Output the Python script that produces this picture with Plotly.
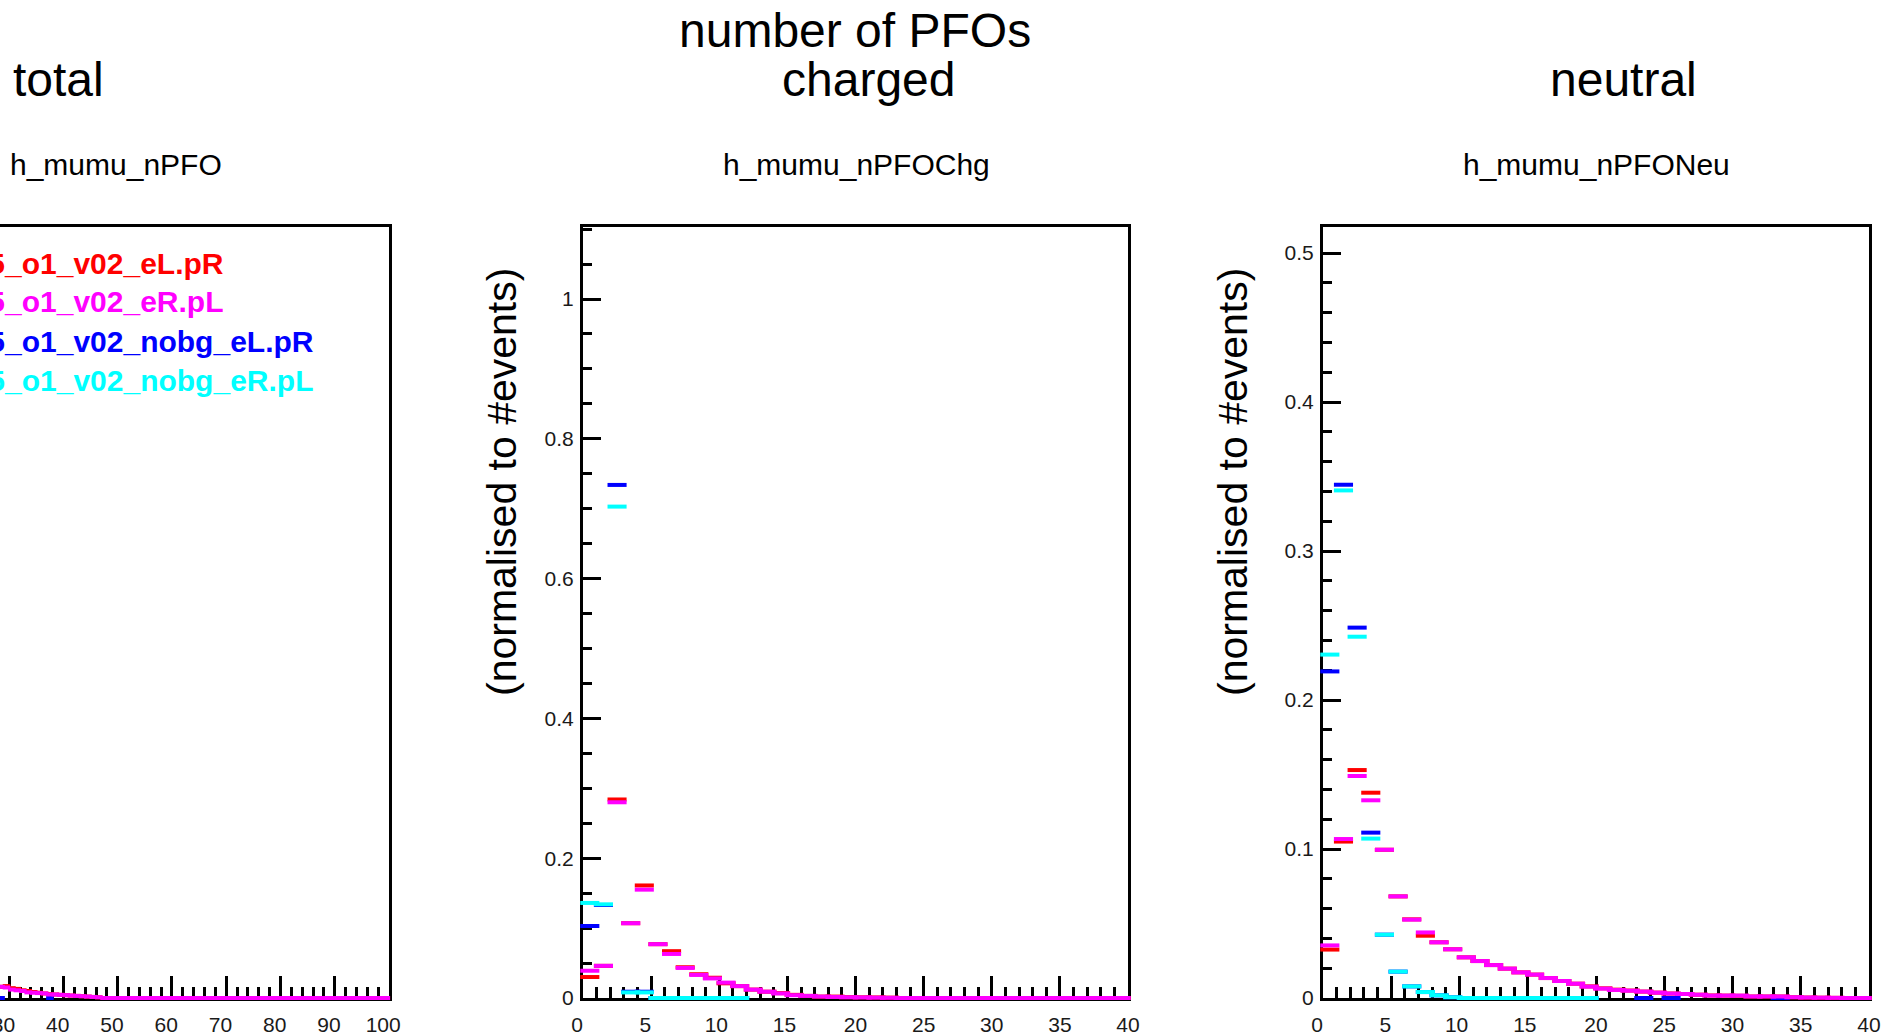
import plotly.graph_objects as go

W, H = 1886, 1034
FONT = "Liberation Sans, Arial, Helvetica, sans-serif"

# ---------------- data ----------------
series_names = ["ILD_l5_o1_v02_eL.pR", "ILD_l5_o1_v02_eR.pL",
                "ILD_l5_o1_v02_nobg_eL.pR", "ILD_l5_o1_v02_nobg_eR.pL"]
series_colors = ["#ff0000", "#ff00ff", "#0000ff", "#00ffff"]

# x tick labels
tot_xticks = [30, 40, 50, 60, 70, 80, 90, 100]
pfo_xticks = [0, 5, 10, 15, 20, 25, 30, 35, 40]

# total number of PFOs (only bins 28..99 are visible)
tot_first_bin = 28
tot_red = [0.0032, 0.0034, 0.0028, 0.0026, 0.0022, 0.0020, 0.0017, 0.0015, 0.0013,
           0.0011, 0.0010, 0.0009, 0.0008, 0.0007, 0.0006, 0.0005, 0.0004, 0.0003,
           0.0002] + [0.0] * 53
tot_mag = [0.0032, 0.0030, 0.0024, 0.0022, 0.0020, 0.0016, 0.0015, 0.0014, 0.0013,
           0.0010, 0.0010, 0.0009, 0.0008, 0.0007, 0.0006, 0.0005, 0.0004, 0.0003,
           0.0002] + [0.0] * 53
tot_blue = [0.0] + [None] * 8 + [0.0] + [None] * 62
tot_cyan = [None] * 72

# charged PFOs, bins 0..39
chg_red = [0.030, 0.046, 0.284, 0.107, 0.161, 0.077, 0.067, 0.044, 0.034, 0.029,
           0.021, 0.017, 0.012, 0.009, 0.007, 0.0045, 0.003, 0.002, 0.002, 0.0012,
           0.001, 0.0008, 0.0005] + [0.0] * 17
chg_mag = [0.039, 0.046, 0.280, 0.107, 0.155, 0.077, 0.063, 0.043, 0.033, 0.028,
           0.022, 0.017, 0.012, 0.009, 0.0065, 0.004, 0.003, 0.002, 0.0015, 0.001,
           0.0008, 0.0005, 0.0003] + [0.0] * 17
chg_blue = [0.103, 0.133, 0.734, 0.009, 0.009, 0, 0, 0, 0, 0, 0, 0] + [None] * 28
chg_cyan = [0.136, 0.134, 0.703, 0.008, 0.008, 0, 0, 0, 0, 0, 0, 0] + [None] * 28

# neutral PFOs, bins 0..39
neu_red = [0.0325, 0.105, 0.153, 0.1378, 0.0995, 0.0682, 0.0528, 0.0418, 0.0374, 0.0327,
           0.0273, 0.0248, 0.0221, 0.0197, 0.0172, 0.0157, 0.0134, 0.0114, 0.0096, 0.0078,
           0.0065, 0.0056, 0.0050, 0.0043, 0.0036, 0.0030, 0.0027, 0.0022, 0.0017, 0.0016,
           0.0015, 0.0010, 0.0010, 0.0010, 0.0005, 0.0003, 0.0002, 0.0001, 0.0, 0.0]
neu_mag = [0.0353, 0.1067, 0.149, 0.1327, 0.0995, 0.0682, 0.0526, 0.0440, 0.0374, 0.0327,
           0.0273, 0.0248, 0.0221, 0.0197, 0.0172, 0.0157, 0.0134, 0.0114, 0.0096, 0.0076,
           0.0063, 0.0054, 0.0049, 0.0043, 0.0036, 0.0030, 0.0027, 0.0022, 0.0016, 0.0016,
           0.0016, 0.0010, 0.0010, 0.0010, 0.0005, 0.0003, 0.0002, 0.0001, 0.0, 0.0]
neu_blue = [0.2192, 0.3445, 0.2486, 0.111, 0.0425, 0.0177, 0.0078, 0.0040, 0.0018, 0.0005,
            0, 0, 0, 0, 0, 0, 0, 0, 0, 0,
            None, None, None, 0.0, None, 0.0, None, None, None, None,
            None, None, None, 0.0, None, None, None, None, None, None]
neu_cyan = [0.2305, 0.3407, 0.2425, 0.107, 0.0425, 0.0177, 0.0078, 0.0040, 0.0018, 0.0005,
            0, 0, 0, 0, 0, 0, 0, 0, 0, 0] + [None] * 20

# ---------------- layout geometry (pixels) ----------------
Y_TOP, Y_BOT = 227, 998
panels = {
    "total": dict(x0=0, x1=389, xr=[28.3, 100], yr=[0, 0.22]),
    "chg": dict(x0=583, x1=1128, xr=[0, 40], yr=[0, 1.103]),
    "neu": dict(x0=1323, x1=1869, xr=[0, 40], yr=[0, 0.5175]),
}
NB = "\u00a0"


def px(x):
    return x / W


def py(y):
    return 1 - y / H


fig = go.Figure()

draw_order = [0, 2, 3, 1]  # red, blue, cyan, magenta on top


def add_hist(axis_id, first_bin, series, key):
    p = panels[key]
    bin_px = (p["x1"] - p["x0"]) / (p["xr"][1] - p["xr"][0])
    for i in draw_order:
        vals = series[i]
        xs, ys = [], []
        for k, v in enumerate(vals):
            if v is None:
                continue
            xs.append(first_bin + k + 0.5)
            ys.append(v)
        if not xs:
            continue
        fig.add_trace(go.Scatter(
            x=xs, y=ys, mode="markers", xaxis="x" + axis_id, yaxis="y" + axis_id,
            marker=dict(symbol="line-ew", size=bin_px,
                        line=dict(color=series_colors[i], width=4)),
            cliponaxis=False, showlegend=False, hoverinfo="skip"))


add_hist("", tot_first_bin, [tot_red, tot_mag, tot_blue, tot_cyan], "total")
add_hist("2", 0, [chg_red, chg_mag, chg_blue, chg_cyan], "chg")
add_hist("3", 0, [neu_red, neu_mag, neu_blue, neu_cyan], "neu")

tickfont = dict(family=FONT, size=21, color="#1a1a1a")


def label_pad(v, total=False):
    # ROOT draws the x labels a little left of their ticks
    if total:
        return str(v) + NB * 2
    if v < 10:
        return str(v) + NB * 2
    if v < 20:
        return str(v) + NB
    return str(v)


def xaxis(key, ticks, minor, total=False):
    p = panels[key]
    return dict(domain=[px(p["x0"]), px(p["x1"])], range=p["xr"],
                showline=True, mirror=True, linecolor="black", linewidth=3,
                ticks="inside", ticklen=22, tickwidth=3, tickcolor="black",
                tickmode="array", tickvals=ticks,
                ticktext=[label_pad(v, total) for v in ticks],
                tickfont=tickfont, ticklabelstandoff=6,
                ticklabeloverflow="allow",
                minor=dict(ticks="inside", ticklen=11, tickwidth=3, tickcolor="black",
                           dtick=minor, tick0=0),
                showgrid=False, zeroline=False, automargin=False, layer="below traces",
                fixedrange=True)


def yaxis(key, dtick, minor, show=True):
    p = panels[key]
    d = dict(domain=[py(Y_BOT), py(Y_TOP)], range=p["yr"],
             showgrid=False, zeroline=False, automargin=False, layer="below traces",
             fixedrange=True)
    if show:
        d.update(showline=True, mirror=True, linecolor="black", linewidth=3,
                 ticks="inside", ticklen=18, tickwidth=3, tickcolor="black",
                 dtick=dtick, tick0=0, tickfont=tickfont, ticklabelstandoff=2,
                 ticklabeloverflow="allow",
                 minor=dict(ticks="inside", ticklen=9, tickwidth=3, tickcolor="black",
                            dtick=minor, tick0=0))
    else:
        d.update(side="right", showline=True, linecolor="black", linewidth=3,
                 ticks="", showticklabels=False)
    return d


xa1 = xaxis("total", tot_xticks, 2, total=True)
xa1["anchor"] = "y"
xa2 = xaxis("chg", pfo_xticks, 1)
xa2["anchor"] = "y2"
xa3 = xaxis("neu", pfo_xticks, 1)
xa3["anchor"] = "y3"
ya1 = yaxis("total", 0.1, 0.02, show=False)
ya1["anchor"] = "x"
ya2 = yaxis("chg", 0.2, 0.05)
ya2["anchor"] = "x2"
ya3 = yaxis("neu", 0.1, 0.02)
ya3["anchor"] = "x3"

annotations = []


def text(x, y, s, size, anchor="center", angle=0, color="black", bold=False):
    annotations.append(dict(
        x=px(x), y=py(y), xref="paper", yref="paper", text=("<b>%s</b>" % s) if bold else s,
        showarrow=False, xanchor=anchor, yanchor="middle", textangle=angle,
        font=dict(family=FONT, size=size, color=color), borderpad=0))


# big titles
text(58, 80, "total", 48)
text(855, 31, "number of PFOs", 48)
text(868, 80, "charged", 48)
text(1623, 80, "neutral", 48)
# histogram titles
text(116, 165, "h_mumu_nPFO", 30)
text(856, 165, "h_mumu_nPFOChg", 30)
text(1596, 165, "h_mumu_nPFONeu", 30)
# y-axis titles
text(502, 482, "(normalised to #events)", 41, angle=-90)
text(1233, 482, "(normalised to #events)", 41, angle=-90)
# legend (left part cut by the picture edge)
legend_rows_y = [264, 302, 341, 380]
for name, col, yy in zip(series_names, series_colors, legend_rows_y):
    text(-86, yy, name, 30, anchor="left", color=col, bold=True)

fig.update_layout(
    width=W, height=H, margin=dict(l=0, r=0, t=0, b=0),
    paper_bgcolor="white", plot_bgcolor="white", template="none",
    showlegend=False,
    xaxis=xa1, yaxis=ya1, xaxis2=xa2, yaxis2=ya2, xaxis3=xa3, yaxis3=ya3,
    annotations=annotations,
)

fig.write_html("out.html", config={"displayModeBar": False})
